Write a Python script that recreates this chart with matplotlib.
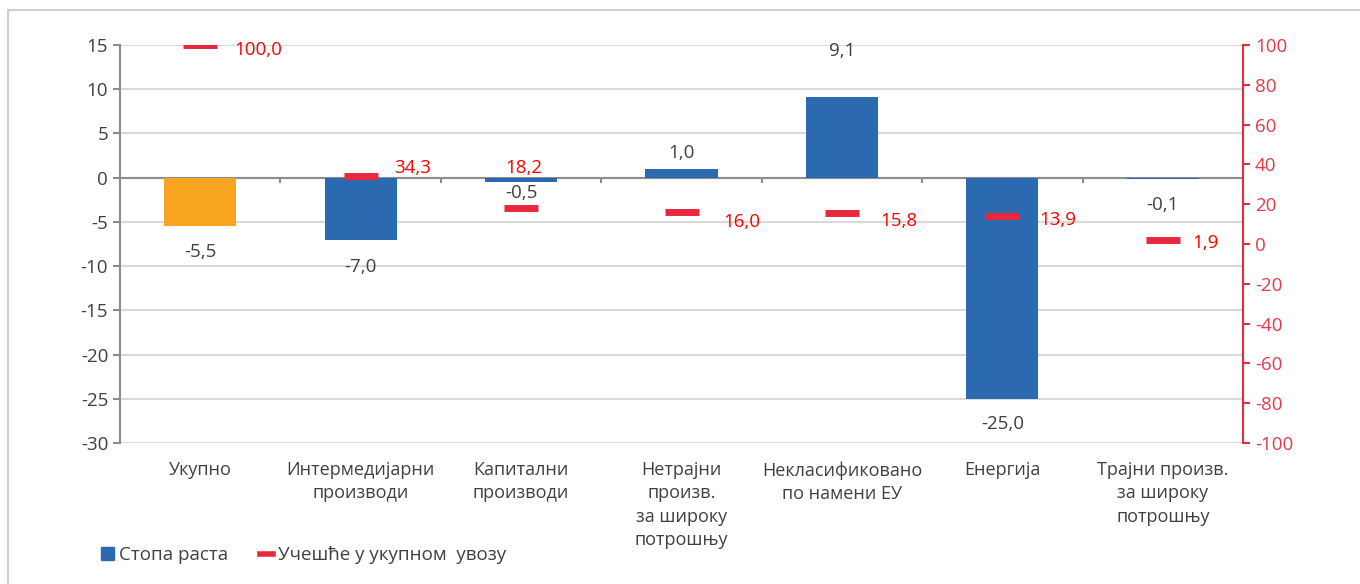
import matplotlib
matplotlib.use('Agg')
import matplotlib.pyplot as plt
import numpy as np
from matplotlib.patches import Patch
from matplotlib.lines import Line2D

plt.rcParams['font.family'] = ['Open Sans', 'DejaVu Sans']
plt.rcParams['axes.unicode_minus'] = False

categories = ['Укупно', 'Интермедијарни\nпроизводи', 'Капитални\nпроизводи',
              'Нетрајни\nпроизв.\nза широку\nпотрошњу', 'Некласификовано\nпо намени ЕУ',
              'Енергија', 'Трајни произв.\nза широку\nпотрошњу']
growth = [-5.5, -7.0, -0.5, 1.0, 9.1, -25.0, -0.1]
share = [100.0, 34.3, 18.2, 16.0, 15.8, 13.9, 1.9]

# label offsets in pixels (dx, dy)
growth_off = [(0, -26), (0, -27), (0, -11), (0, 16), (0, 46), (0, -25), (0, -26)]
share_off = [(58, -5), (52, 8), (3, 40), (60, -10), (57, -8), (55, -4), (43, -3)]

blue = '#2B6AB1'
orange = '#F7A51E'
red = '#E8283C'
txt = '#404040'

fig = plt.figure(figsize=(13.6, 5.84), dpi=100)
ax = fig.add_axes([120/1360, 1-443/584, 1123/1360, 398/584])
x = np.arange(len(categories))

colors = [orange] + [blue]*(len(categories)-1)
ax.bar(x, growth, width=0.45, color=colors, zorder=3)
ax.set_xlim(-0.5, len(categories)-0.5)
ax.set_ylim(-30, 15)
ax.set_yticks(np.arange(-30, 16, 5))
ax.grid(axis='y', color='#d9d9d9', lw=1.5, zorder=0)
ax.axhline(0, color='#8c8c8c', lw=1.5, zorder=2)
ax.vlines(np.arange(0.5, len(categories)-0.5, 1), -0.55, 0, color='#8c8c8c', lw=1.5, zorder=2)

for s in ['top', 'right', 'bottom']:
    ax.spines[s].set_visible(False)
ax.spines['left'].set_color('#8c8c8c')
ax.spines['left'].set_linewidth(1.5)
ax.tick_params(axis='y', colors='#8c8c8c', labelcolor=txt, labelsize=13.5, length=5, width=1.5)
ax.set_xticks(x)
ax.set_xticklabels(categories, fontsize=13, color=txt, linespacing=1.38, va='top')
ax.tick_params(axis='x', length=0, pad=13)

for i, v in enumerate(growth):
    ax.annotate(f'{v:.1f}'.replace('.', ','), (i, v), xytext=growth_off[i],
                textcoords='offset pixels', ha='center', va='center',
                fontsize=13.5, color=txt, zorder=6)

ax2 = ax.twinx()
ax2.set_ylim(-100, 100)
ax2.set_yticks(np.arange(-100, 101, 20))
ax2.plot(x, share, ls='none', marker='_', ms=24, mew=5, color=red, zorder=5)
for s in ['top', 'left', 'bottom']:
    ax2.spines[s].set_visible(False)
ax2.spines['right'].set_color(red)
ax2.spines['right'].set_linewidth(1.5)
ax2.tick_params(axis='y', colors=red, labelcolor='#E8394A', labelsize=13.5, length=5, width=1.5)

for i, v in enumerate(share):
    ax2.annotate(f'{v:.1f}'.replace('.', ','), (i, v), xytext=share_off[i],
                 textcoords='offset pixels', ha='center', va='center',
                 fontsize=13.5, color='#FF0000', zorder=6)

handles = [Patch(color=blue), Line2D([], [], color=red, lw=4)]
fig.legend(handles, ['Стопа раста', 'Учешће у укупном  увозу'], loc='lower left',
           bbox_to_anchor=(0.062, 0.005), ncol=2, frameon=False, fontsize=13.5,
           handlelength=0.7, handleheight=0.7, handletextpad=0.25, columnspacing=1.7,
           labelcolor=txt)

# chart frame
fig.add_artist(Line2D([8/1360, 1], [1-10/584, 1-10/584], color='#d0d0d0', lw=1.5))
fig.add_artist(Line2D([8/1360, 8/1360], [0, 1-10/584], color='#d0d0d0', lw=1.5))

fig.savefig('out.png', dpi=100)
